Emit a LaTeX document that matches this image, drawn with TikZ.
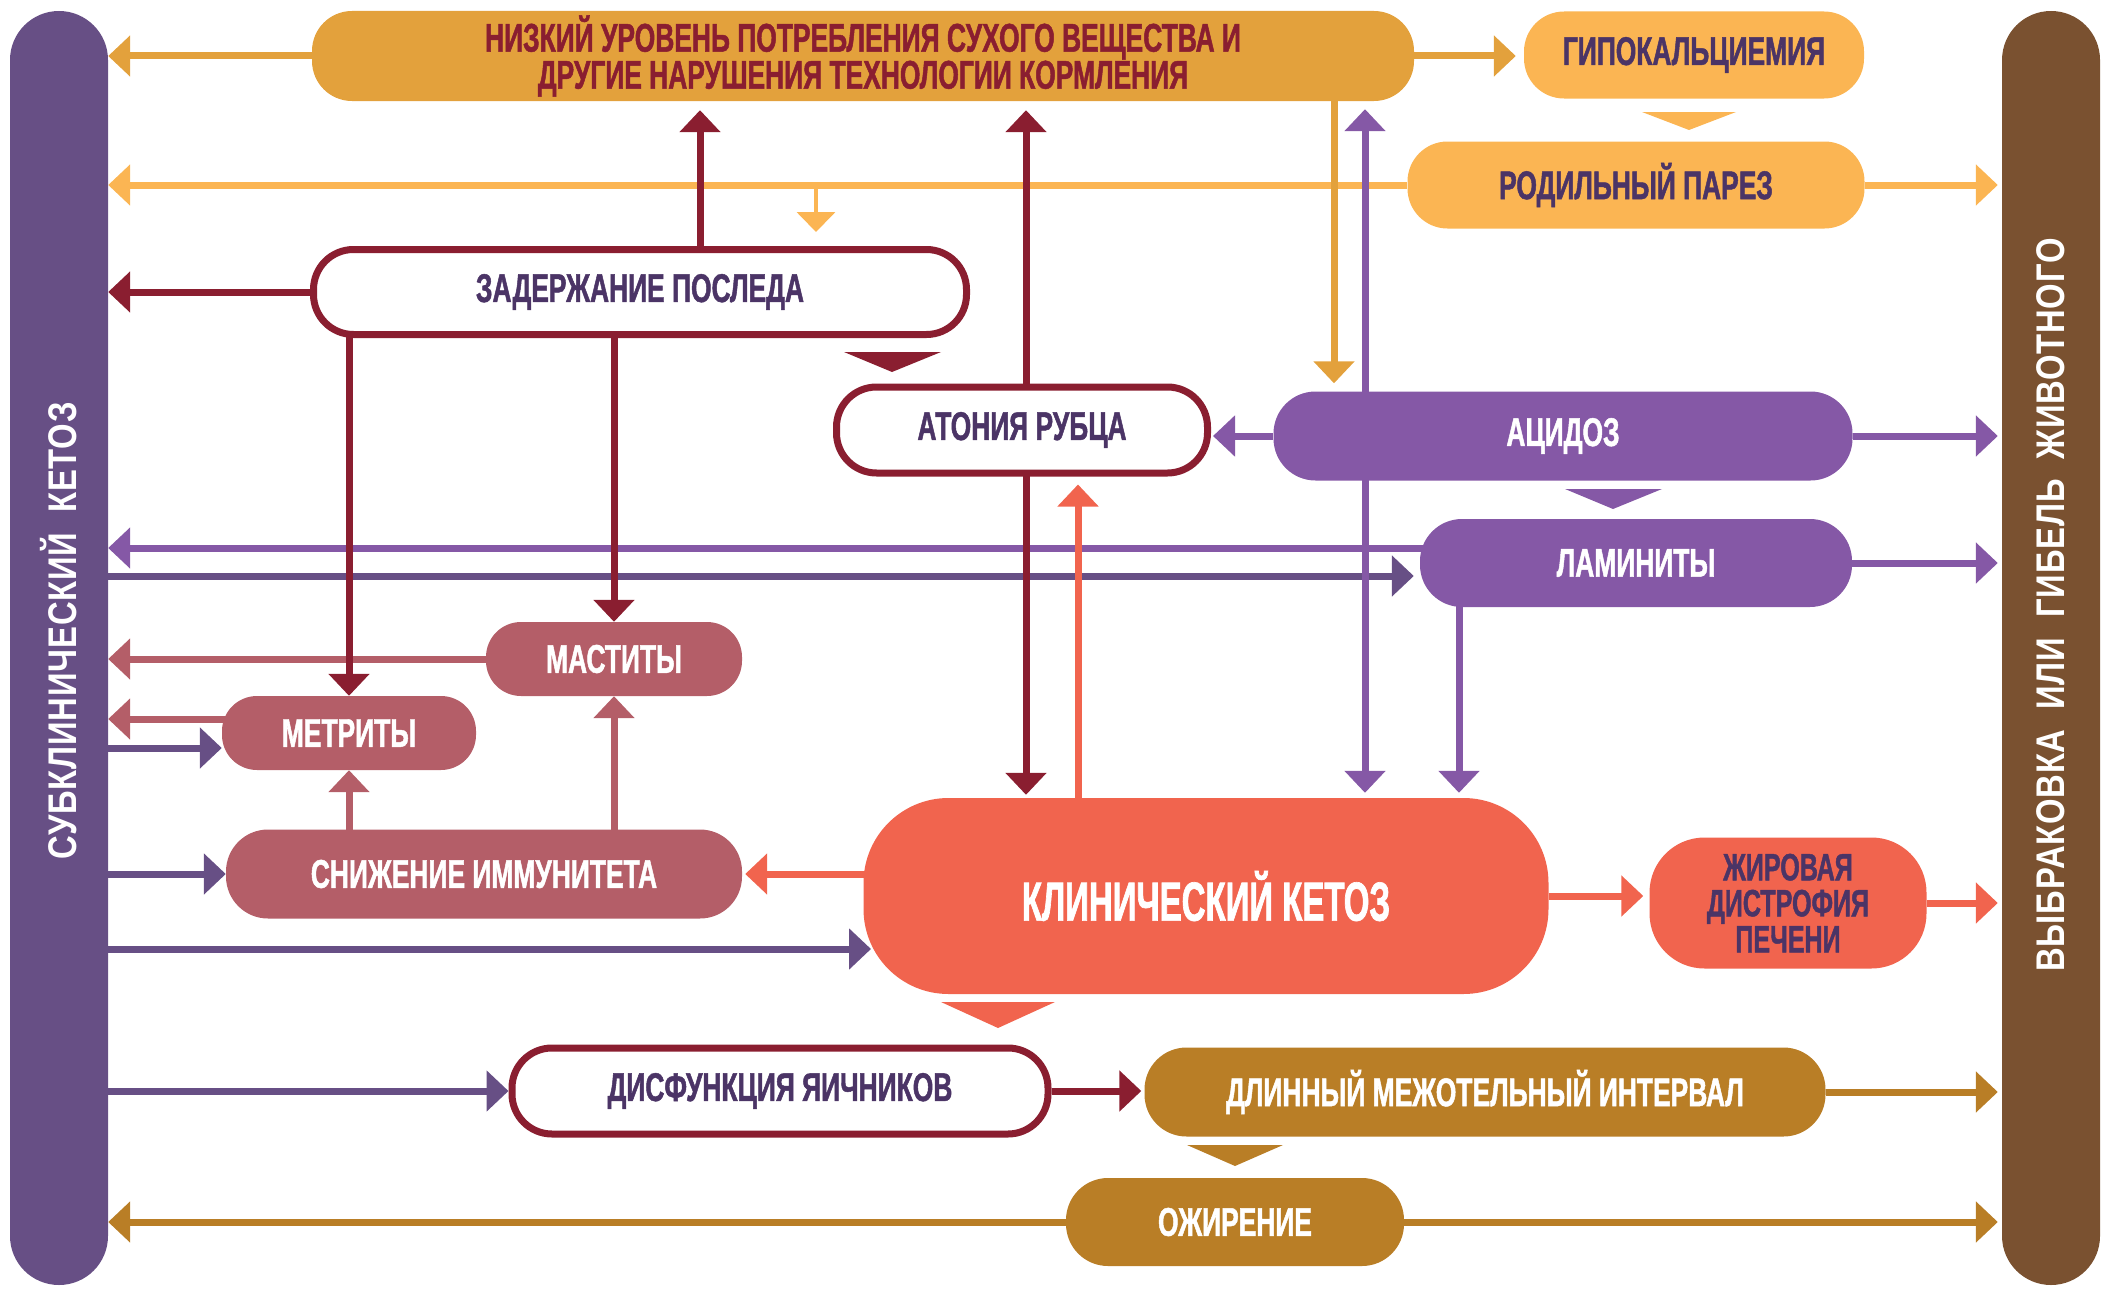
\documentclass[tikz,border=0pt]{standalone}
\usepackage{fontspec}
\setmainfont{Liberation Sans}
\newfontfamily\condfont{Liberation Sans}[FakeStretch=0.66, FakeBold=1.2]
\newfontfamily\ketfont{Liberation Sans}[FakeStretch=0.6, FakeBold=1.2]
\newfontfamily\sidefont{Liberation Sans}[LetterSpace=2, FakeStretch=0.82]
\usetikzlibrary{arrows.meta}
\pgfdeclarelayer{bg}
\pgfsetlayers{bg,main}
\definecolor{cLbar}{HTML}{674F85}
\definecolor{cRbar}{HTML}{7A5130}
\definecolor{cDred}{HTML}{8A1E30}
\definecolor{cOr}{HTML}{E3A13C}
\definecolor{cLor}{HTML}{FBB553}
\definecolor{cPur}{HTML}{8558A6}
\definecolor{cTxt}{HTML}{4B3466}
\definecolor{cMauve}{HTML}{B45E68}
\definecolor{cCoral}{HTML}{F1644E}
\definecolor{cGold}{HTML}{B97E26}
\tikzset{
  nd/.style={inner sep=0pt, align=center, font=\condfont\bfseries\fontsize{40}{37}\selectfont},
  filled/.style={nd, fill=#1, draw=none},
  outlined/.style={nd, fill=white, draw=cDred, line width=7pt, text=cTxt},
  conn/.style={line width=7pt, -{Triangle[length=22pt,width=40pt]}},
  thinconn/.style={line width=4pt, -{Triangle[length=20pt,width=38pt]}},
  sidetext/.style={text=white, rotate=90, inner sep=0pt, font=\sidefont\bfseries\fontsize{40}{40}\selectfont}
}
\begin{document}
\begin{tikzpicture}[x=1pt,y=-1pt]
\useasboundingbox (0,0) rectangle (2107,1290);
% side bars
\node[filled=cLbar, minimum width=98pt, minimum height=1274pt, rounded corners=49pt] (lbar) at (59,648) {};
\node[filled=cRbar, minimum width=98pt, minimum height=1274pt, rounded corners=49pt] (rbar) at (2051,648) {};
\node[sidetext] (ltxt) at (59,631) {СУБКЛИНИЧЕСКИЙ\hspace{0.5em}КЕТОЗ};
\node[sidetext] (rtxt) at (2051,605) {ВЫБРАКОВКА\hspace{0.5em}ИЛИ\hspace{0.5em}ГИБЕЛЬ\hspace{0.5em}ЖИВОТНОГО};
% nodes
\node[filled=cOr, text=cDred, minimum width=1102pt, minimum height=90pt, rounded corners=40pt] (top) at (863,56)
  {НИЗКИЙ УРОВЕНЬ ПОТРЕБЛЕНИЯ СУХОГО ВЕЩЕСТВА И\\ДРУГИЕ НАРУШЕНИЯ ТЕХНОЛОГИИ КОРМЛЕНИЯ};
\node[filled=cLor, text=cTxt, minimum width=340pt, minimum height=87pt, rounded corners=40pt] (hypo) at (1694,55) {ГИПОКАЛЬЦИЕМИЯ};
\node[filled=cLor, text=cTxt, minimum width=457pt, minimum height=87pt, rounded corners=40pt] (pares) at (1636,185) {РОДИЛЬНЫЙ ПАРЕЗ};
\node[outlined, minimum width=653pt, minimum height=85pt, rounded corners=40pt] (zad) at (640,292) {ЗАДЕРЖАНИЕ ПОСЛЕДА};
\node[outlined, minimum width=371pt, minimum height=86pt, rounded corners=40pt] (aton) at (1022,430) {АТОНИЯ РУБЦА};
\node[filled=cPur, text=white, minimum width=579pt, minimum height=89pt, rounded corners=42pt] (acid) at (1563,436) {АЦИДОЗ};
\node[filled=cPur, text=white, minimum width=432pt, minimum height=88pt, rounded corners=42pt] (lam) at (1636,563) {ЛАМИНИТЫ};
\node[filled=cMauve, text=white, minimum width=256pt, minimum height=74pt, rounded corners=35pt] (mast) at (614,659) {МАСТИТЫ};
\node[filled=cMauve, text=white, minimum width=254pt, minimum height=74pt, rounded corners=35pt] (met) at (349,733) {МЕТРИТЫ};
\node[filled=cMauve, text=white, minimum width=516pt, minimum height=89pt, rounded corners=42pt] (imm) at (484,874) {СНИЖЕНИЕ ИММУНИТЕТА};
\node[filled=cCoral, text=white, minimum width=685pt, minimum height=196pt, rounded corners=85pt,
  font=\ketfont\bfseries\fontsize{55}{55}\selectfont] (ket) at (1206,896) {КЛИНИЧЕСКИЙ КЕТОЗ};
\node[filled=cCoral, text=cTxt, minimum width=277pt, minimum height=131pt, rounded corners=55pt,
  font=\condfont\bfseries\fontsize{38}{36}\selectfont] (fat) at (1788,903) {ЖИРОВАЯ\\ДИСТРОФИЯ\\ПЕЧЕНИ};
\node[outlined, minimum width=536pt, minimum height=86pt, rounded corners=40pt] (dys) at (780,1091) {ДИСФУНКЦИЯ ЯИЧНИКОВ};
\node[filled=cGold, text=white, minimum width=681pt, minimum height=89pt, rounded corners=42pt] (long) at (1485,1092) {ДЛИННЫЙ МЕЖОТЕЛЬНЫЙ ИНТЕРВАЛ};
\node[filled=cGold, text=white, minimum width=338pt, minimum height=88pt, rounded corners=42pt] (obes) at (1235,1222) {ОЖИРЕНИЕ};
% triangles
\fill[cLor] (1642,112) -- (1736,112) -- (1689,130) -- cycle;
\fill[cDred] (844,352) -- (941,352) -- (892,372) -- cycle;
\fill[cPur] (1565,489) -- (1662,489) -- (1613,509) -- cycle;
\fill[cCoral] (941,1002) -- (1055,1002) -- (998,1028) -- cycle;
\fill[cGold] (1187,1145) -- (1283,1145) -- (1235,1166) -- cycle;
% connectors
\begin{pgfonlayer}{bg}
% horizontals
\draw[conn,cOr] (top) -- (top -| lbar.east);
\draw[conn,cOr,shorten >=8pt] (top) -- (top -| hypo.west);
\draw[conn,cLor] (pares) -- (pares -| lbar.east);
\draw[conn,cLor,shorten >=4pt] (pares) -- (pares -| rbar.west);
\coordinate (sd) at (816,0);
\draw[thinconn,cLor,shorten >=14pt] (sd |- pares) -- (sd |- zad.north);
\draw[conn,cDred] (zad) -- (zad -| lbar.east);
\draw[conn,cPur,shorten >=2pt] (acid) -- (acid -| aton.east);
\draw[conn,cPur,shorten >=4pt] (acid) -- (acid -| rbar.west);
\coordinate (lu) at ([yshift=15pt]lam.center);
\draw[conn,cPur] (lu) -- (lu -| lbar.east);
\coordinate (ld) at ([yshift=-13pt]lam.center);
\draw[conn,cLbar,shorten >=6pt] (ld -| lbar.east) -- (ld -| lam.west);
\draw[conn,cPur,shorten >=4pt] (lam) -- (lam -| rbar.west);
\draw[conn,cMauve] (mast) -- (mast -| lbar.east);
\coordinate (mu) at ([yshift=14pt]met.center);
\draw[conn,cMauve] (mu) -- (mu -| lbar.east);
\coordinate (md) at ([yshift=-15pt]met.center);
\draw[conn,cLbar] (md -| lbar.east) -- (md -| met.west);
\draw[conn,cLbar] (imm -| lbar.east) -- (imm.west);
\draw[conn,cCoral,shorten >=3pt] (imm -| ket) -- (imm.east);
\coordinate (kl) at (871,949);
\draw[conn,cLbar] (kl -| lbar.east) -- (kl);
\draw[conn,cCoral,shorten >=6pt] (ket) -- (ket -| fat.west);
\draw[conn,cCoral,shorten >=4pt] (fat) -- (fat -| rbar.west);
\draw[conn,cLbar] (dys -| lbar.east) -- (dys.west);
\draw[conn,cDred,shorten >=3pt] (dys) -- (dys -| long.west);
\draw[conn,cGold,shorten >=4pt] (long) -- (long -| rbar.west);
\draw[conn,cGold] (obes) -- (obes -| lbar.east);
\draw[conn,cGold,shorten >=4pt] (obes) -- (obes -| rbar.west);
% verticals
\coordinate (zx) at (700,0);
\draw[conn,cDred,shorten >=9pt] (zx |- zad) -- (zx |- top.south);
\draw[conn,cDred] (met.north |- zad) -- (met.north);
\draw[conn,cDred] (mast.north |- zad) -- (mast.north);
\coordinate (ax) at (1026,0);
\draw[conn,cDred,shorten >=9pt] (ax |- aton) -- (ax |- top.south);
\draw[conn,cDred,shorten >=3pt] (ax |- aton) -- (ax |- ket.north);
\coordinate (kx) at (1078,0);
\draw[conn,cCoral,shorten >=8pt] (kx |- ket) -- (kx |- aton.south);
\coordinate (ox) at (1334,0);
\draw[conn,cOr,shorten >=8pt] (ox |- top) -- (ox |- acid.north);
\coordinate (px) at (1365,0);
\draw[conn,cPur,shorten >=8pt] (px |- acid) -- (px |- top.south);
\draw[conn,cPur,shorten >=5pt] (px |- acid) -- (px |- ket.north);
\coordinate (lx) at (1459,0);
\draw[conn,cPur,shorten >=5pt] (lx |- lam) -- (lx |- ket.north);
\draw[conn,cMauve] (met.south |- imm) -- (met.south);
\draw[conn,cMauve] (mast.south |- imm) -- (mast.south);
\end{pgfonlayer}
\end{tikzpicture}
\end{document}
